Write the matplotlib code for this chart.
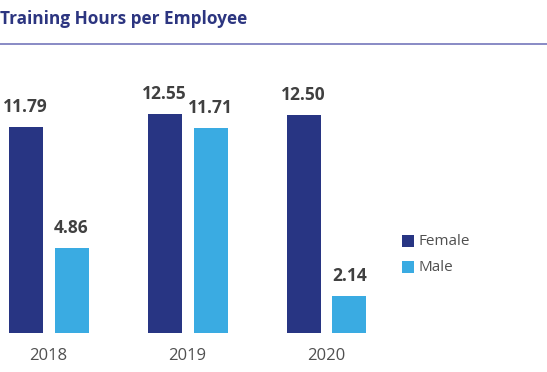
import numpy as np
import matplotlib
matplotlib.use('Agg')
import matplotlib.pyplot as plt
from matplotlib.patches import Rectangle
from matplotlib.lines import Line2D

plt.rcParams['font.family'] = ['Open Sans', 'DejaVu Sans']

years = ['2018', '2019', '2020']
female = [11.79, 12.55, 12.50]
male = [4.86, 11.71, 2.14]
series = ['Female', 'Male']
colors = ['#283583', '#3aabe2']

W, H = 547, 372
fig = plt.figure(figsize=(W / 100, H / 100), dpi=100)

# axes: full width, bottom at the bar baseline
px_per_unit = 139.0
x0 = 48.5
ax = fig.add_axes([0, (H - 333) / H, 1, (333 - 60) / H])
ax.set_xlim(-x0 / px_per_unit, (W - x0) / px_per_unit)
ax.set_ylim(0, (333 - 60) / 17.47)
ax.axis('off')

xs = np.arange(len(years))
bw = 34 / px_per_unit
off = 23 / px_per_unit
for vals, c, sgn in [(female, colors[0], -1), (male, colors[1], 1)]:
    ax.bar(xs + sgn * off, vals, width=bw, color=c)
    for x, v in zip(xs, vals):
        ax.annotate('%.2f' % v, (x + sgn * off, v), xytext=(0, 11),
                    textcoords='offset pixels', ha='center', va='bottom',
                    fontsize=12.5, fontweight='bold', color='#404040')

for x, y in zip(xs, years):
    ax.annotate(y, (x, 0), xytext=(0, -23), textcoords='offset pixels',
                ha='center', va='center', fontsize=12, color='#505050')

# title and rule
fig.text(0 / W, 1 - 18.5 / H, 'Training Hours per Employee', ha='left', va='center',
         fontsize=12.4, fontweight='bold', color='#2c3580')
fig.add_artist(Line2D([0, 1], [1 - 44 / H, 1 - 44 / H], color='#7477bb', lw=1.2))

# legend
for i, (name, c) in enumerate(zip(series, colors)):
    ytop = 235 + i * 26
    fig.add_artist(Rectangle((402 / W, 1 - (ytop + 12) / H), 12 / W, 12 / H,
                             facecolor=c, edgecolor='none'))
    fig.text(418 / W, 1 - (ytop + 6.5) / H, name, ha='left', va='center',
             fontsize=11, color='#505050')

fig.savefig('out.png', dpi=100)
